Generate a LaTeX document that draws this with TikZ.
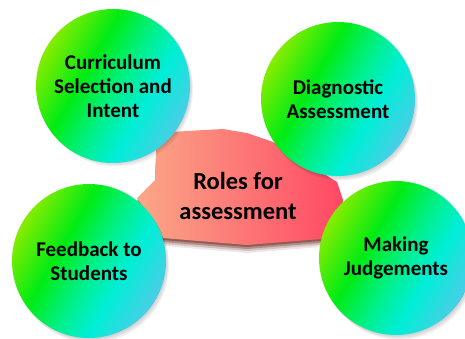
\documentclass[tikz,border=0pt]{standalone}
\usepackage{fontspec}
\setmainfont{Carlito}
\usetikzlibrary{positioning}
\definecolor{limeA}{RGB}{135,236,0}
\definecolor{greenA}{RGB}{0,236,20}
\definecolor{mintA}{RGB}{0,240,140}
\definecolor{cyanA}{RGB}{0,238,215}
\definecolor{blueA}{RGB}{75,205,230}
\definecolor{salmonA}{RGB}{250,168,135}
\definecolor{redA}{RGB}{255,72,100}
\definecolor{shadowA}{RGB}{90,20,10}
\pgfdeclarehorizontalshading{orbshade}{100bp}{color(0bp)=(limeA); color(25bp)=(limeA); color(40bp)=(greenA); color(52bp)=(mintA); color(62bp)=(cyanA); color(75bp)=(blueA); color(100bp)=(blueA)}
\tikzset{
  orb/.style={circle, minimum size=154pt, inner sep=0pt, shading=orbshade, shading angle=-30,
    align=center, font=\fontsize{21}{24}\selectfont\bfseries},
  orbshadow/.style={circle, minimum size=154pt, inner sep=0pt, fill=black, opacity=0.06},
  rolestext/.style={align=center, font=\fontsize{24.5}{30}\selectfont\bfseries}
}
\begin{document}
\begin{tikzpicture}[x=1pt, y=-1pt, line join=round]
	\useasboundingbox (0,0) rectangle (465,338);
	\clip (0,0) rectangle (465,338);
	% Khoi trung tam: bong do
	\foreach \d/\o in {2/0.4, 4/0.3, 6/0.18, 8/0.1}
	  \fill[shadowA, opacity=\o] (157,133+\d) -- (187,131+\d) -- (223,129+\d) -- (247,133+\d) -- (273,142+\d)
	    -- (337,182+\d) -- (343,200+\d) -- (333,238+\d) -- (247,245+\d) -- (163,238+\d)
	    -- (137,198+\d) -- (155,180+\d) -- cycle;
	% Khoi trung tam
	\shade[left color=salmonA, right color=redA] (157,133) -- (187,131) -- (223,129) -- (247,133) -- (273,142)
	  -- (337,182) -- (343,200) -- (333,238) -- (247,245) -- (163,238)
	  -- (137,198) -- (155,180) -- cycle;
	\node[rolestext] (roles) at (238,196) {Roles for\\assessment};
	% Bong cua cac hinh tron
	\foreach \x/\y in {113/85, 338/99, 89/261, 396/258}
	  \foreach \s in {1,2,3}
	    \node[orbshadow] at (\x+\s,\y+1.5*\s) {};
	% Bon hinh tron
	\node[orb] (curriculum) at (113,86) {Curriculum\\Selection and\\Intent};
	\node[orb] (diagnostic) at (338,99) {Diagnostic\\Assessment};
	\node[orb] (feedback) at (89,261) {Feedback to\\Students};
	\node[orb] (judgements) at (396,258) {Making\\Judgements};
\end{tikzpicture}
\end{document}
